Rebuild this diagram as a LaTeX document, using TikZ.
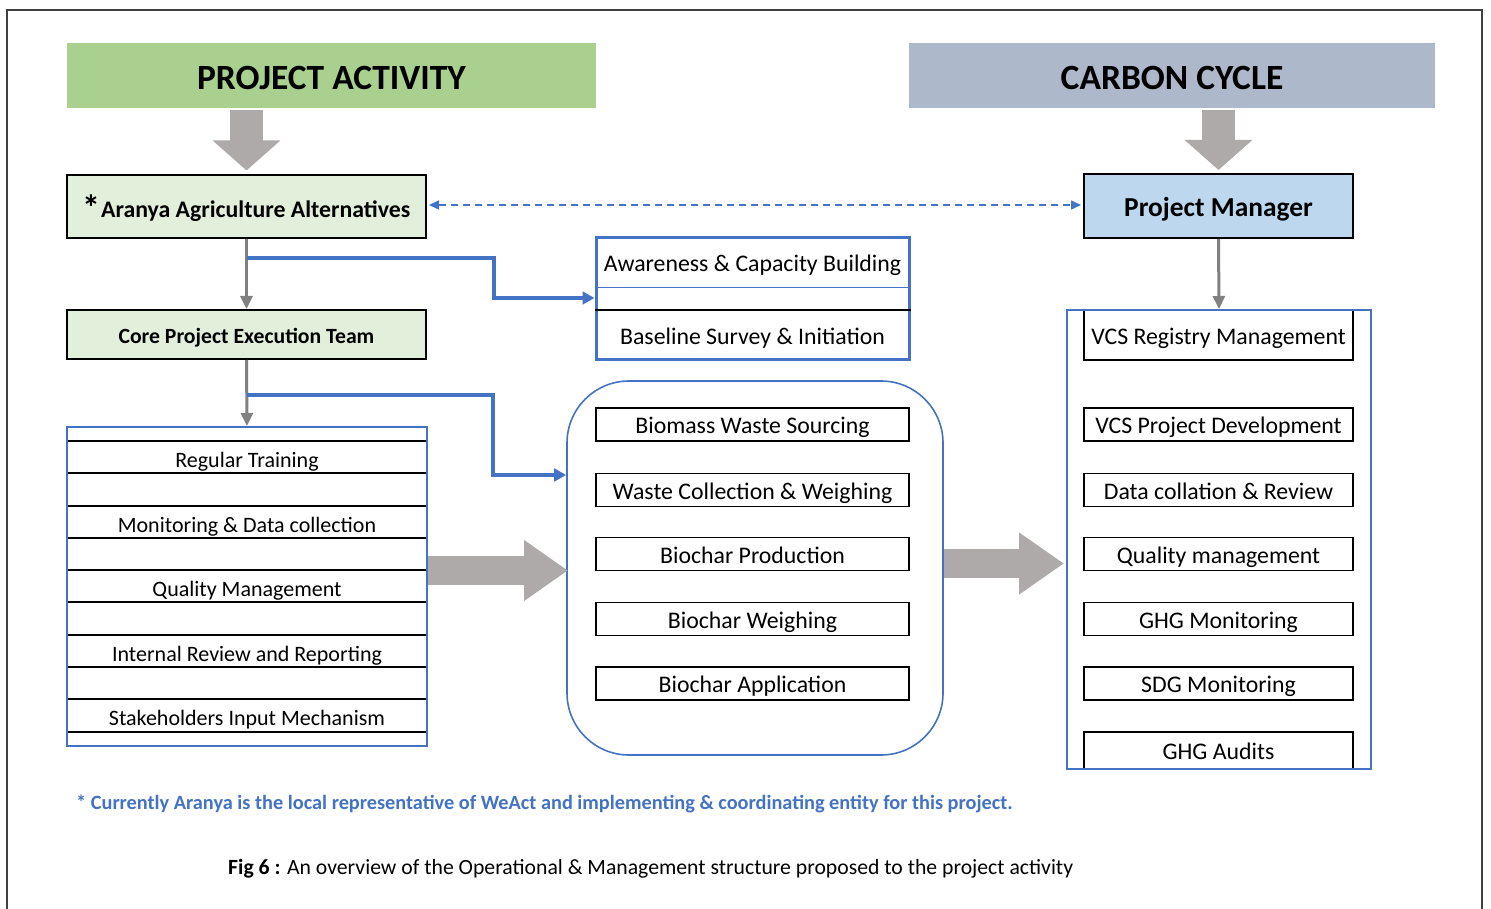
\documentclass[tikz,border=0pt]{standalone}
\usepackage{fontspec}
\setmainfont{Carlito}
\usetikzlibrary{arrows.meta,calc}
\definecolor{blu}{HTML}{4472C4}
\definecolor{lgreen}{HTML}{E2EFDA}
\definecolor{hgreen}{HTML}{A9D08E}
\definecolor{hblue}{HTML}{ADB9CA}
\definecolor{pmblue}{HTML}{BDD7EE}
\definecolor{agray}{HTML}{AEAAAA}
\definecolor{lgray}{HTML}{808080}
\definecolor{framegray}{HTML}{404040}
\tikzset{
  hdr/.style={rectangle, inner sep=0pt, minimum height=65pt, text height=27pt, text depth=0pt, font=\fontsize{35.5}{36}\selectfont\bfseries},
  lead/.style={rectangle, draw=black, line width=2pt, inner sep=0pt},
  lrow/.style={rectangle, draw=black, line width=1.3pt, minimum width=360pt, minimum height=32pt, inner sep=0pt, text height=20pt, text depth=0pt, font=\fontsize{22}{22}\selectfont},
  mrow/.style={rectangle, draw=black, line width=1.3pt, minimum width=313pt, minimum height=33pt, inner sep=0pt, text height=18.5pt, text depth=0pt, font=\fontsize{23.8}{24}\selectfont},
  rrow/.style={rectangle, draw=black, line width=1.3pt, minimum width=269pt, minimum height=33pt, inner sep=0pt, text height=18.5pt, text depth=0pt, font=\fontsize{23.8}{24}\selectfont},
  plain/.style={inner sep=0pt, anchor=base, font=\fontsize{23.8}{24}\selectfont},
  gline/.style={draw=lgray, line width=3pt, -{Triangle[length=13pt,width=12pt]}},
  bline/.style={draw=blu, line width=3.5pt, -{Triangle[length=12pt,width=12.5pt]}},
  dline/.style={draw=blu, line width=1.5pt, dash pattern=on 7pt off 5pt, {Triangle[length=10pt,width=9pt]}-{Triangle[length=10pt,width=9pt]}},
  bigv/.style={draw=agray, line width=33pt, -{Triangle[length=30pt,width=66pt]}},
  bigh/.style={draw=agray, line width=29pt, -{Triangle[length=44pt,width=58pt]}},
}
\begin{document}
\begin{tikzpicture}[x=1pt,y=-1pt]
\useasboundingbox[fill=white] (0,0) rectangle (1491,909);
% frame
\draw[line width=2pt, draw=framegray] (7,940) -- (7,10) -- (1482,10) -- (1482,940);

% headers
\node[hdr, fill=hgreen, minimum width=529pt] (pa) at (331.5,76) {PROJECT ACTIVITY};
\node[hdr, fill=hblue, minimum width=526pt] (cc) at (1172,76) {CARBON CYCLE};

% lead boxes
\node[lead, fill=lgreen, minimum width=359pt, minimum height=63pt] (aaa) at (246.5,206.5) {};
\node[inner sep=0pt, anchor=base west, font=\fontsize{36}{36}\selectfont\bfseries] (ast) at (82,221) {*};
\node[inner sep=0pt, anchor=base west, font=\fontsize{23.8}{24}\selectfont\bfseries] (aaat) at (101,218) {Aranya Agriculture Alternatives};
\node[lead, fill=lgreen, minimum width=359pt, minimum height=49pt, text height=17pt, text depth=0pt, font=\fontsize{21.7}{22}\selectfont\bfseries] (core) at (246.5,334.5) {Core Project Execution Team};
\node[lead, fill=pmblue, minimum width=269pt, minimum height=64pt, text height=22pt, text depth=0pt, font=\fontsize{27.4}{28}\selectfont\bfseries] (pm) at (1218.5,206) {Project Manager};

% big block arrows down
\draw[bigv, shorten <=1.5pt, shorten >=3.5pt] (pa.south -| aaa.north) -- (aaa.north);
\draw[bigv, shorten <=1.5pt, shorten >=3pt] (cc.south -| pm.north) -- (pm.north);

% dashed link
\draw[dline, shorten <=2pt, shorten >=2pt] (aaa.east |- 0,205) -- (pm.west |- 0,205);

% awareness group
\node[rectangle, draw=blu, line width=3pt, minimum width=313pt, minimum height=121pt, inner sep=0pt] (aw) at (752.5,298.5) {};
\node[plain] (awt) at (752.5,272) {Awareness \& Capacity Building};
\node[plain] (bst) at (752.5,344.5) {Baseline Survey \& Initiation};
\draw[draw=blu, line width=1pt] (aw.west |- 0,288) -- (aw.east |- 0,288);
\draw[draw=black, line width=1.3pt] (aw.west |- 0,310) -- (aw.east |- 0,310);

% connectors from lead boxes
\coordinate (j1) at (246.5,258);
\draw[gline] (aaa.south) -- (core.north);
\draw[bline] (j1) -| (494,298) -- (aw.west |- 0,298);

% left list
\node[lrow] (l1) at (247,457) {Regular Training};
\node[lrow] (l2) at (247,522) {Monitoring \& Data collection};
\node[lrow] (l3) at (247,586) {Quality Management};
\node[lrow] (l4) at (247,651) {Internal Review and Reporting};
\node[lrow, minimum height=33pt] (l5) at (247,715.5) {Stakeholders Input Mechanism};
\node[rectangle, draw=blu, line width=2pt, minimum width=360pt, minimum height=319pt, inner sep=0pt] (lst) at (247,586.5) {};

% middle rounded group
\node[rectangle, rounded corners=62pt, draw=blu, line width=1.6pt, minimum width=376pt, minimum height=374pt, inner sep=0pt] (mid) at (755,568) {};
\node[mrow] (m1) at (752.5,424.5) {Biomass Waste Sourcing};
\node[mrow] (m2) at (752.5,490) {Waste Collection \& Weighing};
\node[mrow] (m3) at (752.5,554) {Biochar Production};
\node[mrow] (m4) at (752.5,618.8) {Biochar Weighing};
\node[mrow] (m5) at (752.5,683.5) {Biochar Application};

% connectors from core team
\coordinate (j2) at (246.5,395);
\draw[gline] (core.south) -- (lst.north);
\draw[bline] (j2) -| (493,475) -- (mid.west |- 0,475);

% right list
\node[rrow, minimum height=50pt] (r1) at (1218.5,335) {VCS Registry Management};
\node[rrow] (r2) at (1218.5,424.5) {VCS Project Development};
\node[rrow] (r3) at (1218.5,490) {Data collation \& Review};
\node[rrow] (r4) at (1218.5,554) {Quality management};
\node[rrow] (r5) at (1218.5,619) {GHG Monitoring};
\node[rrow] (r6) at (1218.5,683.5) {SDG Monitoring};
\node[rrow, minimum height=37pt] (r7) at (1218.5,750.5) {GHG Audits};
\node[rectangle, draw=blu, line width=2pt, minimum width=304pt, minimum height=459pt, inner sep=0pt] (rl) at (1219,539.5) {};
\draw[gline] (pm.south) -- (rl.north);

% big horizontal block arrows
\coordinate (h1a) at (427,570.5);
\coordinate (h1b) at (568,570.5);
\coordinate (h2a) at (943,563.5);
\coordinate (h2b) at (1064,563.5);
\draw[bigh] (lst.east |- h1a) -- (h1b);
\draw[bigh, -{Triangle[length=45pt,width=59pt]}] (mid.east |- h2a) -- (h2b);

% notes
\node[anchor=west, inner sep=0pt, text=blu, font=\fontsize{20.3}{20}\selectfont\bfseries] (note) at (76,804) {* Currently Aranya is the local representative of WeAct and implementing \& coordinating entity for this project.};
\node[anchor=west, inner sep=0pt, font=\fontsize{21.7}{22}\selectfont] (cap) at (228,869) {\textbf{Fig 6 :} An overview of the Operational \& Management structure proposed to the project activity};
\end{tikzpicture}
\end{document}
